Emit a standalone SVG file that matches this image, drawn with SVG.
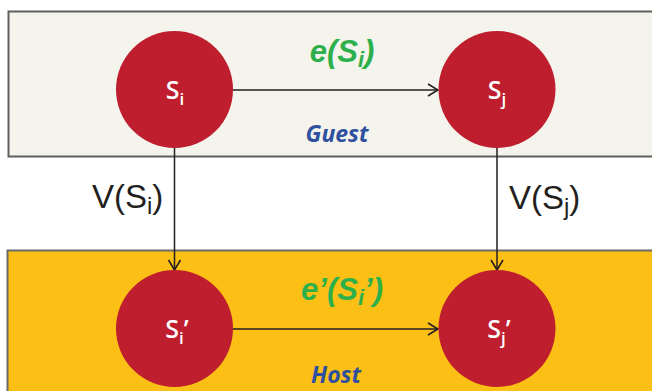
<svg xmlns="http://www.w3.org/2000/svg" width="652" height="391" viewBox="0 0 652 391">
  <style>
    .band-guest { fill: #F4F3EC; stroke: #5F5F5F; stroke-width: 2; }
    .band-host { fill: #FBBF16; stroke: #6B6B6B; stroke-width: 2; }
    .state { fill: #BE1E2D; }
    .state-label { fill: #FFFFFF; font-family: "Open Sans", "Liberation Sans", sans-serif; font-size: 25px; font-weight: 600; text-anchor: middle; }
    .edge-label { fill: #2DB04B; font-family: "Liberation Sans", sans-serif; font-size: 31px; font-weight: bold; font-style: italic; text-anchor: middle; }
    .layer-label { fill: #2F4F9F; font-family: "Open Sans", "Liberation Sans", sans-serif; font-size: 23px; font-weight: bold; font-style: italic; text-anchor: middle; }
    .map-label { fill: #231F20; font-family: "Liberation Sans", sans-serif; font-size: 33px; }
    .conn { stroke: #231F20; stroke-width: 1.5; fill: none; marker-end: url(#arrow); }
  </style>
  <defs>
    <marker id="arrow" viewBox="0 0 12 14" refX="11" refY="7" markerWidth="12" markerHeight="14" markerUnits="userSpaceOnUse" orient="auto">
      <path d="M1,1 L11,7 L1,13" fill="none" stroke="#231F20" stroke-width="1.6"/>
    </marker>
  </defs>

  <!-- Layers -->
  <g id="guest-layer">
    <rect class="band-guest" x="8.5" y="11.5" width="660" height="145"/>
    <text class="layer-label" x="337" y="142">Guest</text>
  </g>
  <g id="host-layer">
    <rect class="band-host" x="7.5" y="250.5" width="660" height="160"/>
    <text class="layer-label" x="336" y="383">Host</text>
  </g>

  <!-- Connectors -->
  <g id="connectors">
    <line class="conn" x1="233" y1="90" x2="438" y2="90"/>
    <line class="conn" x1="233" y1="329" x2="438" y2="329"/>
    <line class="conn" x1="174.5" y1="148" x2="174.5" y2="270"/>
    <line class="conn" x1="497" y1="148" x2="497" y2="270"/>
    <text class="edge-label" x="342" y="62">e(S<tspan font-size="22" dy="5">i</tspan><tspan dy="-5">)</tspan></text>
    <text class="edge-label" x="342" y="300">e’(S<tspan font-size="22" dy="5">i</tspan><tspan dy="-5">’)</tspan></text>
    <text class="map-label" x="92" y="208">V(S<tspan font-size="24" dy="6">i</tspan><tspan dy="-6">)</tspan></text>
    <text class="map-label" x="509" y="209">V(S<tspan font-size="24" dy="6">j</tspan><tspan dy="-6">)</tspan></text>
  </g>

  <!-- States -->
  <g id="node-si">
    <circle class="state" cx="174.5" cy="89.5" r="58.5"/>
    <text class="state-label" x="175" y="99">S<tspan font-size="17" dy="6">i</tspan></text>
  </g>
  <g id="node-sj">
    <circle class="state" cx="497" cy="89.5" r="58.5"/>
    <text class="state-label" x="497" y="99">S<tspan font-size="17" dy="6">j</tspan></text>
  </g>
  <g id="node-si-prime">
    <circle class="state" cx="174.5" cy="328.5" r="58.5"/>
    <text class="state-label" x="177" y="338">S<tspan font-size="17" dy="6">i</tspan><tspan dy="-6">’</tspan></text>
  </g>
  <g id="node-sj-prime">
    <circle class="state" cx="497" cy="328.5" r="58.5"/>
    <text class="state-label" x="499" y="338">S<tspan font-size="17" dy="6">j</tspan><tspan dy="-6">’</tspan></text>
  </g>
</svg>
